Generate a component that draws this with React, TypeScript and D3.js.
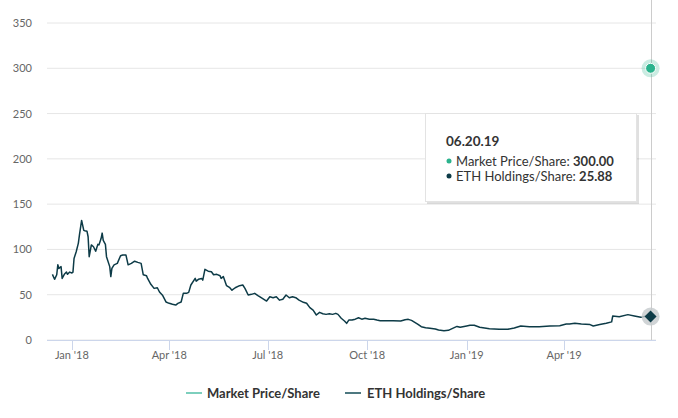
import React from "react";
import * as d3 from "d3";

// ETH holdings per share
const ethDates = [
  "2017-12-14", "2017-12-16", "2017-12-18", "2017-12-19", "2017-12-20", "2017-12-22", "2017-12-23",
  "2017-12-25", "2017-12-27", "2017-12-28", "2017-12-30", "2018-01-01", "2018-01-02", "2018-01-03",
  "2018-01-05", "2018-01-07", "2018-01-08", "2018-01-10", "2018-01-12", "2018-01-13", "2018-01-15",
  "2018-01-16", "2018-01-17", "2018-01-19", "2018-01-21", "2018-01-23", "2018-01-25", "2018-01-26",
  "2018-01-28", "2018-01-29", "2018-01-30", "2018-02-01", "2018-02-02", "2018-02-05", "2018-02-06",
  "2018-02-07", "2018-02-09", "2018-02-12", "2018-02-15", "2018-02-17", "2018-02-20", "2018-02-22",
  "2018-02-25", "2018-02-28", "2018-03-03", "2018-03-06", "2018-03-08", "2018-03-11", "2018-03-12",
  "2018-03-15", "2018-03-18", "2018-03-21", "2018-03-23", "2018-03-26", "2018-03-29", "2018-04-01",
  "2018-04-04", "2018-04-07", "2018-04-09", "2018-04-12", "2018-04-14", "2018-04-17", "2018-04-19",
  "2018-04-21", "2018-04-25", "2018-04-26", "2018-04-28", "2018-05-01", "2018-05-02", "2018-05-04",
  "2018-05-07", "2018-05-10", "2018-05-12", "2018-05-15", "2018-05-18", "2018-05-19", "2018-05-21",
  "2018-05-24", "2018-05-27", "2018-05-29", "2018-06-01", "2018-06-05", "2018-06-08", "2018-06-10",
  "2018-06-13", "2018-06-16", "2018-06-19", "2018-06-22", "2018-06-25", "2018-06-30", "2018-07-03",
  "2018-07-06", "2018-07-09", "2018-07-12", "2018-07-15", "2018-07-18", "2018-07-21", "2018-07-24",
  "2018-07-27", "2018-07-30", "2018-08-03", "2018-08-06", "2018-08-09", "2018-08-12", "2018-08-15",
  "2018-08-18", "2018-08-21", "2018-08-24", "2018-08-27", "2018-08-30", "2018-09-02", "2018-09-04",
  "2018-09-07", "2018-09-10", "2018-09-12", "2018-09-14", "2018-09-17", "2018-09-20", "2018-09-23",
  "2018-09-26", "2018-09-29", "2018-10-03", "2018-10-07", "2018-10-10", "2018-10-13", "2018-10-19",
  "2018-10-25", "2018-11-01", "2018-11-05", "2018-11-08", "2018-11-11", "2018-11-14", "2018-11-17",
  "2018-11-20", "2018-11-24", "2018-11-28", "2018-12-03", "2018-12-06", "2018-12-11", "2018-12-15",
  "2018-12-19", "2018-12-23", "2018-12-26", "2019-01-01", "2019-01-04", "2019-01-08", "2019-01-13",
  "2019-01-22", "2019-01-31", "2019-02-08", "2019-02-14", "2019-02-20", "2019-02-28", "2019-03-09",
  "2019-03-19", "2019-03-28", "2019-04-03", "2019-04-06", "2019-04-11", "2019-04-17", "2019-04-25",
  "2019-04-28", "2019-05-04", "2019-05-10", "2019-05-15", "2019-05-16", "2019-05-22", "2019-05-30",
  "2019-06-05", "2019-06-11", "2019-06-16", "2019-06-20",
];
const ethValues = [
  72.5, 67, 72, 83, 79, 81, 68,
  72.5, 75, 72.5, 75, 74, 75, 90,
  97.5, 107, 116, 132, 121, 120.6, 120,
  114, 92, 105, 103, 98, 105.6, 105,
  112, 118, 110, 105.6, 92, 81, 70,
  79, 83, 84.6, 93, 93.8, 93.8, 83,
  84.6, 87, 85.7, 84.6, 72, 71, 68,
  61.5, 57, 57.7, 53, 49, 42, 40.5,
  39.4, 38.6, 40.5, 42, 51.5, 51.5, 52.6,
  60.7, 68, 65, 67, 68, 66, 78,
  76, 75.4, 72, 72.5, 71, 68, 70,
  60, 57.7, 55, 57.7, 60, 60.7, 57,
  49.7, 50.4, 51.5, 49, 46.7, 43, 47.8,
  46.7, 47.8, 44, 45, 49.7, 46.7, 47.8,
  46.7, 44, 41.6, 40.5, 35.7, 33, 27.6,
  30.5, 29, 28.3, 29, 28.3, 29.4, 28.3,
  24, 21, 18.4, 22, 22, 23, 24.6,
  23, 24, 23, 23, 22, 21.3, 21.3,
  21.3, 21, 22.4, 22.8, 21.7, 19.5, 17.3,
  14.7, 13.6, 12.9, 12.1, 11, 10.3, 10.7,
  12.9, 15, 14, 15.5, 16.2, 16.2, 14,
  12.5, 11.8, 11.8, 13.2, 15.5, 14.7, 14.7,
  15.5, 15.8, 17.7, 17.7, 18.4, 17.7, 17,
  15.5, 17, 18.4, 20, 26.5, 25.7, 28,
  26.5, 25, 26.5, 25.88,
];

// Market price per share: only one value shown
const marketDates = ["2019-06-20"];
const marketValues = [300];

const yTicks = [0, 50, 100, 150, 200, 250, 300, 350];
const seriesNames = ["Market Price/Share", "ETH Holdings/Share"];
const tooltipDate = "06.20.19";

const W = 678, H = 418;
const GREEN = "#2bb38d";
const DARK = "#0d3b47";
const FONT = "Lato, 'Open Sans', sans-serif";

export default function App() {
  const parse = d3.utcParse("%Y-%m-%d");
  const x = d3.scaleUtc()
    .domain([Date.UTC(2017, 11, 9), Date.UTC(2019, 5, 25)])
    .range([47, 656]);
  const y = d3.scaleLinear().domain([0, 350]).range([340, 23]);

  const eth = ethDates.map((d, i) => ({ date: parse(d)!, v: ethValues[i] }));
  const market = marketDates.map((d, i) => ({ date: parse(d)!, v: marketValues[i] }));

  const line = d3.line<{ date: Date; v: number }>()
    .x(d => x(d.date))
    .y(d => y(d.v));

  const xTicks = x.ticks(d3.utcMonth.every(3)!).filter(t => x(t) > 50);
  const fmt = d3.utcFormat("%b '%y");

  const last = eth[eth.length - 1];
  const lx = x(last.date), ly = y(last.v);
  const m = market[0];
  const mx = x(m.date), my = y(m.v);

  return (
    <div style={{ position: "absolute", left: 0, top: 0 }}>
      <svg width={W} height={H} style={{ fontFamily: FONT, display: "block" }}>
        <rect width={W} height={H} fill="#fff" />
        {yTicks.map(t => (
          <g key={t}>
            <line x1={47} x2={656} y1={y(t)} y2={y(t)} stroke="#e6e6e6" />
            <text x={32} y={y(t) + 4} textAnchor="end" fontSize={11} fill="#666">{t}</text>
          </g>
        ))}
        <line x1={47} x2={656} y1={340.5} y2={340.5} stroke="#ccd6eb" />
        {xTicks.map(t => (
          <g key={+t}>
            <line x1={Math.round(x(t)) + 0.5} x2={Math.round(x(t)) + 0.5} y1={340} y2={350} stroke="#ccd6eb" />
            <text x={x(t)} y={359} textAnchor="middle" fontSize={11} fill="#666">{fmt(t)}</text>
          </g>
        ))}

        <line x1={Math.round(mx) + 0.5} x2={Math.round(mx) + 0.5} y1={0} y2={340} stroke="#cccccc" />

        <path d={line(eth)!} fill="none" stroke={DARK} strokeWidth={1.5} strokeLinejoin="round" />

        <circle cx={mx} cy={my} r={9} fill={GREEN} opacity={0.25} />
        <circle cx={mx} cy={my} r={5} fill={GREEN} stroke="#fff" strokeWidth={1} />

        <circle cx={lx} cy={ly} r={9} fill="#c4c9cc" opacity={0.8} />
        <path d={`M${lx},${ly - 6}L${lx + 6},${ly}L${lx},${ly + 6}L${lx - 6},${ly}Z`} fill={DARK} />

        {/* tooltip */}
        <rect x={427} y={115} width={212} height={89} fill="#000" opacity={0.12} />
        <rect x={425.5} y={113.5} width={211} height={88} fill="#fff" stroke="#e3e3e3" />
        <text x={446} y={146} fontSize={13.5} fontWeight="bold" fill="#333">{tooltipDate}</text>
        <circle cx={449} cy={161} r={2.5} fill={GREEN} />
        <text x={456} y={165.5} fontSize={13} fill="#333">
          {seriesNames[0]}: <tspan fontWeight="bold">{m.v.toFixed(2)}</tspan>
        </text>
        <circle cx={449} cy={176} r={2.5} fill={DARK} />
        <text x={456} y={180.5} fontSize={13} fill="#333">
          {seriesNames[1]}: <tspan fontWeight="bold">{last.v.toFixed(2)}</tspan>
        </text>

        {/* legend */}
        <line x1={186} x2={202} y1={393} y2={393} stroke="#7dcfbd" strokeWidth={2} />
        <text x={207} y={397.5} fontSize={13} fontWeight="bold" fill="#333">{seriesNames[0]}</text>
        <line x1={345} x2={361} y1={393} y2={393} stroke="#4d7880" strokeWidth={2} />
        <text x={367} y={397.5} fontSize={13} fontWeight="bold" fill="#333">{seriesNames[1]}</text>
      </svg>
    </div>
  );
}
